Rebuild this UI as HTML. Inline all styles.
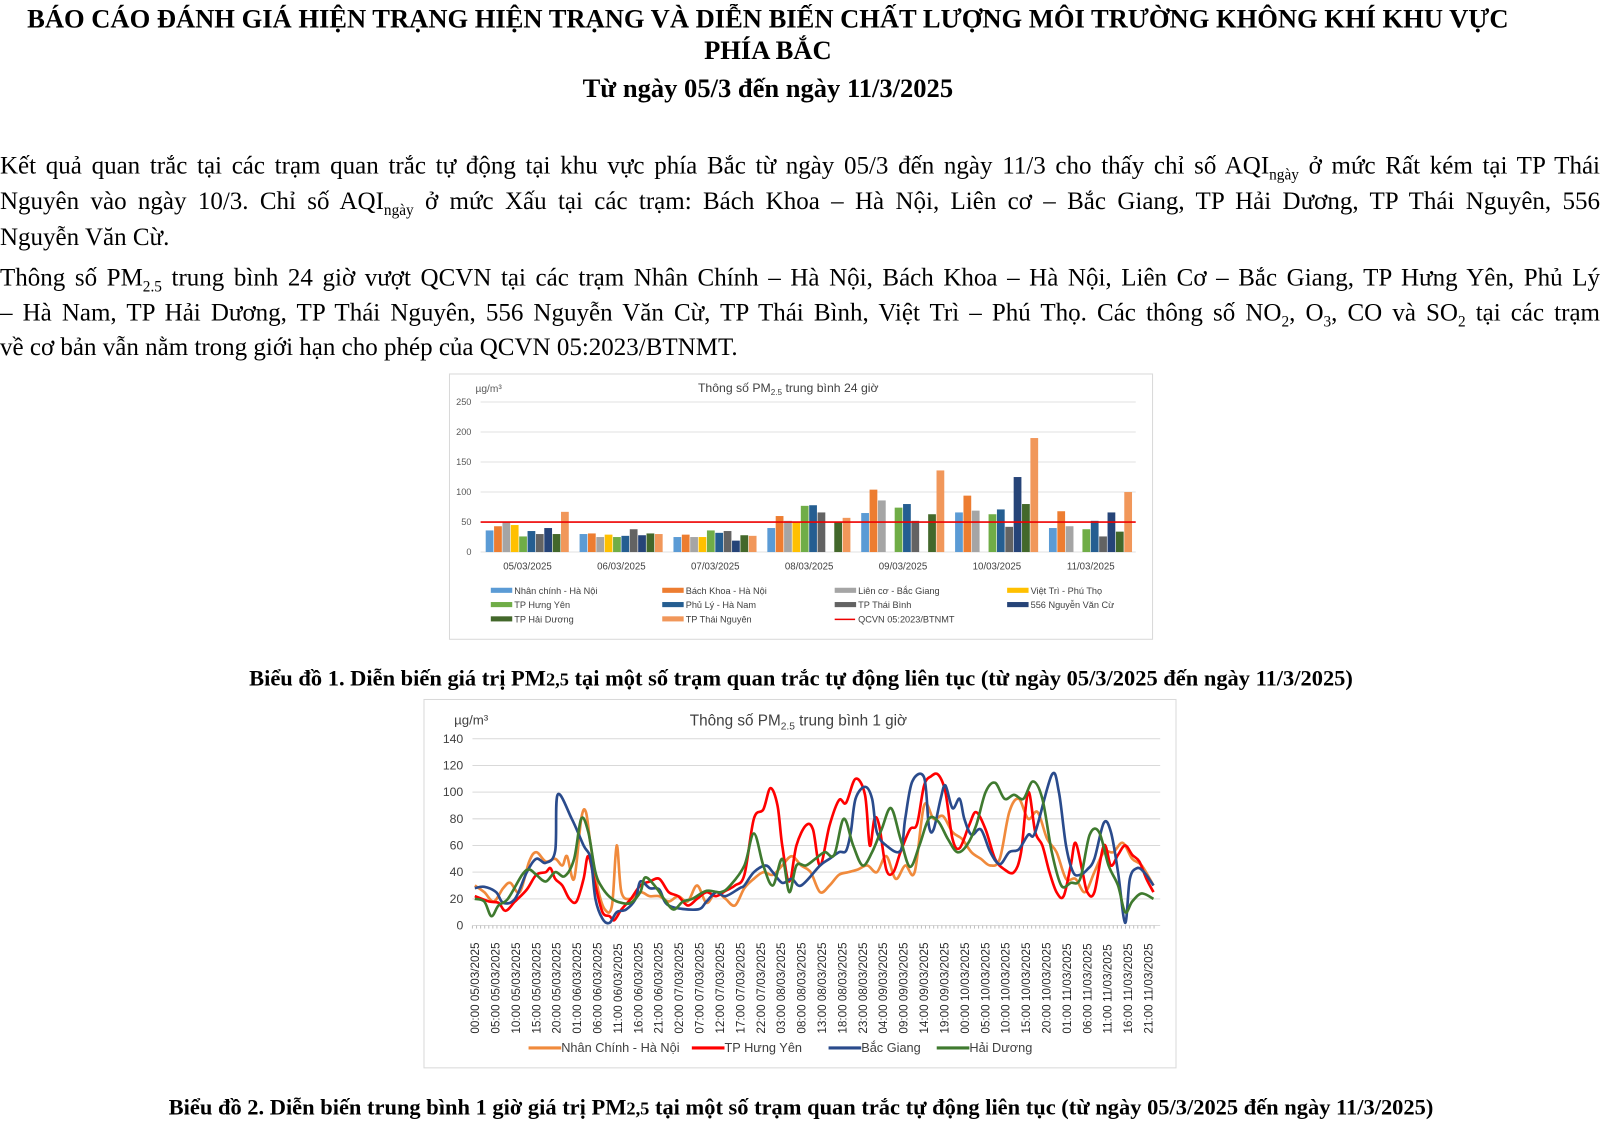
<!DOCTYPE html>
<html><head><meta charset="utf-8"><style>
body{margin:0;width:1600px;height:1132px;background:#fff;overflow:hidden}
#w{position:absolute;left:0;top:0;width:1568px;height:1110px;transform:scale(1.0204);transform-origin:0 0;font-family:"Liberation Serif",serif;color:#000}
.t{position:absolute;left:0;width:1505px;text-align:center;font-weight:bold;font-size:26px}
.p{position:absolute;left:0;width:1568px;font-size:24.5px;line-height:35px;text-align:justify;text-align-last:justify;white-space:nowrap}
.cap{position:absolute;left:0;width:1570px;text-align:center;font-weight:bold;font-size:22px}
svg text{font-family:"Liberation Sans",sans-serif}
</style></head><body><div id="w">
<div class="t" style="top:4px">BÁO CÁO ĐÁNH GIÁ HIỆN TRẠNG HIỆN TRẠNG VÀ DIỄN BIẾN CHẤT LƯỢNG MÔI TRƯỜNG KHÔNG KHÍ KHU VỰC</div>
<div class="t" style="top:35px">PHÍA BẮC</div>
<div class="t" style="top:72px">Từ ngày 05/3 đến ngày 11/3/2025</div>
<div class="p" style="top:145px">Kết quả quan trắc tại các trạm quan trắc tự động tại khu vực phía Bắc từ ngày 05/3 đến ngày 11/3 cho thấy chỉ số AQI<sub style="font-size:15px">ngày</sub> ở mức Rất kém tại TP Thái</div>
<div class="p" style="top:180px">Nguyên vào ngày 10/3. Chỉ số AQI<sub style="font-size:15px">ngày</sub> ở mức Xấu tại các trạm: Bách Khoa – Hà Nội, Liên cơ – Bắc Giang, TP Hải Dương, TP Thái Nguyên, 556</div>
<div class="p" style="top:215px;text-align-last:left">Nguyễn Văn Cừ.</div>
<div class="p" style="top:255px">Thông số PM<sub style="font-size:15px">2.5</sub> trung bình 24 giờ vượt QCVN tại các trạm Nhân Chính – Hà Nội, Bách Khoa – Hà Nội, Liên Cơ – Bắc Giang, TP Hưng Yên, Phủ Lý</div>
<div class="p" style="top:289px">– Hà Nam, TP Hải Dương, TP Thái Nguyên, 556 Nguyễn Văn Cừ, TP Thái Bình, Việt Trì – Phú Thọ. Các thông số NO<sub style="font-size:15px">2</sub>, O<sub style="font-size:15px">3</sub>, CO và SO<sub style="font-size:15px">2</sub> tại các trạm</div>
<div class="p" style="top:323px;text-align-last:left">về cơ bản vẫn nằm trong giới hạn cho phép của QCVN 05:2023/BTNMT.</div>
<div class="cap" style="top:652px">Biểu đồ 1. Diễn biến giá trị PM<span style="font-size:18px">2,5</span> tại một số trạm quan trắc tự động liên tục (từ ngày 05/3/2025 đến ngày 11/3/2025)</div>
<div class="cap" style="top:1072px">Biểu đồ 2. Diễn biến trung bình 1 giờ giá trị PM<span style="font-size:18px">2,5</span> tại một số trạm quan trắc tự động liên tục (từ ngày 05/3/2025 đến ngày 11/3/2025)</div>
<svg id="s" width="1568" height="1110" style="position:absolute;left:0;top:0">
<rect x="440.5" y="366.5" width="689" height="260" fill="#fff" stroke="#d9d9d9"/>
<rect x="415.5" y="685.5" width="737" height="361" fill="#fff" stroke="#d9d9d9"/>
<text x="466" y="384" font-size="10" fill="#595959">µg/m³</text>
<text x="684" y="384" font-size="12" fill="#404040">Thông số PM<tspan font-size="8" dy="3">2.5</tspan><tspan dy="-3"> trung bình 24 giờ</tspan></text>
<text x="445" y="710" font-size="13" fill="#404040">µg/m³</text>
<text x="676" y="711" font-size="15" fill="#404040">Thông số PM<tspan font-size="10" dy="4">2.5</tspan><tspan dy="-4"> trung bình 1 giờ</tspan></text>
<g id="g"></g>
</svg>
</div>
<script>
var g=document.getElementById('g'),h='';
for(var v=0;v<=250;v+=50){var y=541-v*0.588;h+='<line x1="471" x2="1113" y1="'+y+'" y2="'+y+'" stroke="#e0e0e0"/><text x="462" y="'+(y+3)+'" font-size="9" text-anchor="end" fill="#595959">'+v+'</text>';}
var cols=['#5B9BD5','#ED7D31','#A5A5A5','#FFC000','#70AD47','#255E91','#636363','#264478','#43682B','#F1975A'];
var D=[[36,43,50,45,26,35,30,40,30,67],[30,31,25,29,25,27,38,28,31,30],[25,29,25,25,36,32,35,19,28,27],[40,60,52,50,77,78,66,0,50,57],[65,104,86,0,74,80,52,0,63,136],[66,94,69,0,63,71,42,125,80,190],[40,68,43,0,38,52,26,66,34,100]];
var days=['05/03/2025','06/03/2025','07/03/2025','08/03/2025','09/03/2025','10/03/2025','11/03/2025'];
for(var d=0;d<7;d++){var c=517+d*92;for(var i=0;i<10;i++){var bh=D[d][i]*0.588;h+='<rect x="'+(c-41+i*8.2)+'" y="'+(541-bh)+'" width="7.6" height="'+bh+'" fill="'+cols[i]+'"/>';}
h+='<text x="'+c+'" y="558" font-size="9.5" text-anchor="middle" fill="#404040">'+days[d]+'</text>';}
h+='<line x1="471" x2="1113" y1="511.6" y2="511.6" stroke="#e00" stroke-width="1.6"/>';
var L=[['Nhân chính - Hà Nội','Bách Khoa - Hà Nội','Liên cơ - Bắc Giang','Việt Trì - Phú Thọ'],['TP Hưng Yên','Phủ Lý - Hà Nam','TP Thái Bình','556 Nguyễn Văn Cừ'],['TP Hải Dương','TP Thái Nguyên','QCVN 05:2023/BTNMT']];
var LC=[[0,1,2,3],[4,5,6,7],[8,9,-1]];var lx=[481,649,818,987];
for(var r=0;r<3;r++)for(var k=0;k<L[r].length;k++){var y=582+r*14;var cc=LC[r][k];
if(cc<0)h+='<line x1="'+lx[k]+'" x2="'+(lx[k]+20)+'" y1="'+(y-3)+'" y2="'+(y-3)+'" stroke="#e00" stroke-width="1.5"/>';else h+='<rect x="'+lx[k]+'" y="'+(y-6)+'" width="21" height="5" fill="'+cols[cc]+'"/>';
h+='<text x="'+(lx[k]+23)+'" y="'+y+'" font-size="9" fill="#404040">'+L[r][k]+'</text>';}
for(var v=0;v<=140;v+=20){var y=907-v*1.307;h+='<line x1="463" x2="1137" y1="'+y+'" y2="'+y+'" stroke="#d9d9d9"/><text x="454" y="'+(y+4)+'" font-size="12" text-anchor="end" fill="#404040">'+v+'</text>';}
for(var hr=0;hr<168;hr++){var x=463+hr*4;h+='<line x1="'+x+'" x2="'+x+'" y1="907" y2="910" stroke="#bfbfbf"/>';}
var dd=['05','06','07','08','09','10','11'];
for(var i=0;i<34;i++){var hr=i*5,x=465+hr*4;var lab=(hr%24<10?'0':'')+(hr%24)+':00 '+dd[Math.floor(hr/24)]+'/03/2025';
h+='<text transform="translate('+(x+4.5)+',1013) rotate(-90)" font-size="11.5" fill="#262626">'+lab+'</text>';}
function P(a,col){var pts=[];for(var i=0;i<a.length;i+=2){pts.push([463+(a[i]-125)*0.4635,907-a[i+1]*1.307]);}
var s='M'+pts[0][0]+','+pts[0][1];for(var i=0;i<pts.length-1;i++){var p0=pts[Math.max(0,i-1)],p1=pts[i],p2=pts[i+1],p3=pts[Math.min(pts.length-1,i+2)];
s+='C'+(p1[0]+(p2[0]-p0[0])/6)+','+(p1[1]+(p2[1]-p0[1])/6)+' '+(p2[0]-(p3[0]-p1[0])/6)+','+(p2[1]-(p3[1]-p1[1])/6)+' '+p2[0]+','+p2[1];}
return '<path d="'+s+'" fill="none" stroke="'+col+'" stroke-width="2.6" stroke-linejoin="round"/>';}
var OR=[130,30,150,25,170,18,190,28,205,32,225,25,245,48,260,55,280,48,300,50,315,45,325,52,340,35,355,80,365,85,375,60,390,28,405,12,420,15,430,60,440,25,460,20,480,25,500,22,520,22,540,18,560,22,580,18,600,30,620,17,640,25,660,20,680,15,700,28,720,35,740,40,760,38,780,45,800,52,820,45,840,40,860,25,880,30,900,38,920,40,940,42,960,45,980,40,1000,52,1020,35,1040,45,1060,40,1080,90,1100,80,1120,82,1140,70,1160,65,1180,55,1200,50,1220,45,1240,50,1260,85,1280,95,1300,80,1320,85,1340,65,1360,55,1380,35,1400,35,1420,25,1440,40,1460,55,1480,55,1500,62,1520,50,1540,45,1565,30];
var RD=[130,22,160,18,180,17,195,11,215,18,240,27,260,38,280,40,290,43,300,35,315,30,330,20,345,18,360,35,370,52,385,30,400,10,415,7,425,4,440,12,460,20,480,30,500,33,520,35,540,25,560,22,580,15,600,20,620,25,640,22,660,26,680,30,700,38,720,80,740,87,755,103,770,90,780,60,795,33,810,60,830,75,845,72,860,45,880,75,900,94,915,92,935,110,955,98,965,60,975,80,985,75,1000,42,1015,40,1030,55,1050,72,1065,76,1080,105,1095,112,1110,113,1125,100,1140,65,1155,58,1175,75,1190,85,1210,72,1230,50,1250,42,1270,40,1285,55,1300,100,1315,70,1330,60,1345,40,1360,25,1375,22,1390,45,1400,62,1415,40,1425,25,1440,25,1460,60,1475,45,1490,53,1505,60,1520,53,1535,48,1550,35,1565,25];
var BL=[130,28,150,29,175,25,190,17,215,20,240,40,260,50,280,47,300,56,305,98,335,80,360,60,375,50,385,20,400,5,415,2,430,10,450,12,470,20,480,33,500,28,520,27,540,15,600,12,620,18,640,25,660,22,690,28,700,30,720,40,745,45,760,40,780,32,800,35,820,30,860,45,880,50,900,55,915,56,925,70,935,95,955,104,970,95,980,70,1000,60,1030,56,1040,80,1055,108,1080,111,1090,75,1100,72,1115,95,1125,105,1140,88,1155,95,1165,80,1180,68,1200,72,1220,55,1240,46,1260,55,1280,57,1300,68,1315,70,1350,113,1365,100,1380,60,1395,40,1410,38,1425,42,1440,50,1460,77,1475,70,1490,40,1505,2,1515,35,1530,43,1545,40,1565,30];
var GR=[130,20,150,18,165,7,180,15,200,20,230,38,245,42,260,38,280,33,300,40,320,37,340,50,355,80,370,70,385,40,400,28,420,20,440,17,460,17,480,25,490,36,510,30,530,20,550,12,570,18,590,20,620,26,650,25,670,30,700,45,720,69,740,45,760,30,780,50,795,25,810,45,830,45,850,50,870,55,890,53,910,80,930,60,950,45,970,55,990,72,1010,88,1030,65,1050,44,1070,60,1090,80,1110,78,1130,65,1150,55,1170,60,1190,75,1210,100,1230,107,1250,95,1270,98,1290,95,1310,108,1330,95,1350,55,1370,30,1390,32,1410,35,1430,68,1450,70,1470,45,1490,30,1505,10,1520,18,1540,24,1565,20];
h+=P(OR,'#F08A3C')+P(RD,'#F00')+P(BL,'#2A4B8C')+P(GR,'#3F7A2F');
var LL=[['Nhân Chính - Hà Nội','#F08A3C',518],['TP Hưng Yên','#F00',678],['Bắc Giang','#2A4B8C',812],['Hải Dương','#3F7A2F',918]];
for(var i=0;i<4;i++){h+='<line x1="'+LL[i][2]+'" x2="'+(LL[i][2]+32)+'" y1="1027" y2="1027" stroke="'+LL[i][1]+'" stroke-width="3"/><text x="'+(LL[i][2]+32)+'" y="1031" font-size="12.5" fill="#404040">'+LL[i][0]+'</text>';}
g.innerHTML=h;
</script>
</body></html>
